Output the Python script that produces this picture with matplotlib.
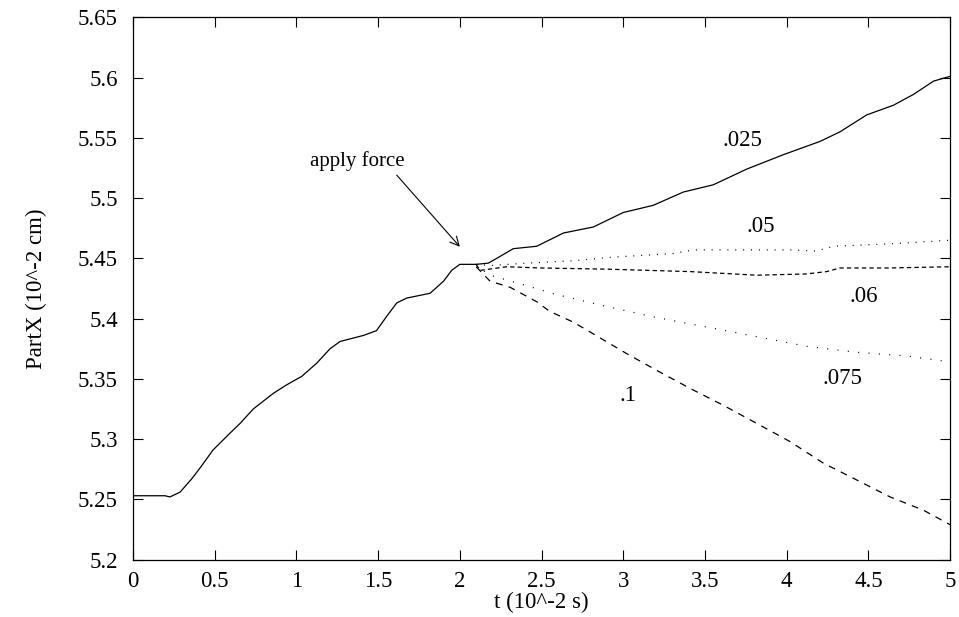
import matplotlib.pyplot as plt

plt.rcParams['font.family'] = ['Liberation Serif', 'DejaVu Serif']

# main trace (.025)
t_025 = [0.0, 0.196, 0.226, 0.288, 0.359, 0.41, 0.49, 0.594, 0.655, 0.736, 0.859, 0.94,
         1.032, 1.124, 1.206, 1.267, 1.41, 1.49, 1.553, 1.614, 1.675, 1.818, 1.9, 1.95,
         2.0, 2.1, 2.174, 2.226, 2.327, 2.47, 2.634, 2.817, 3.0, 3.184, 3.368, 3.551,
         3.755, 3.98, 4.204, 4.327, 4.49, 4.653, 4.776, 4.898, 5.0]
x_025 = [5.253, 5.253, 5.252, 5.256, 5.267, 5.276, 5.291, 5.305, 5.313, 5.325, 5.338, 5.345,
         5.352, 5.363, 5.375, 5.381, 5.386, 5.390, 5.402, 5.413, 5.417, 5.421, 5.431, 5.440,
         5.445, 5.445, 5.446, 5.450, 5.458, 5.460, 5.471, 5.476, 5.488, 5.494, 5.505, 5.511,
         5.524, 5.536, 5.547, 5.555, 5.569, 5.577, 5.586, 5.597, 5.601]

t_05 = [2.1, 2.185, 2.41, 2.695, 2.94, 3.307, 3.43, 3.715, 4.02, 4.18, 4.286, 4.633, 5.0]
x_05 = [5.445, 5.444, 5.446, 5.448, 5.451, 5.454, 5.457, 5.457, 5.457, 5.456, 5.460, 5.462, 5.465]

t_06 = [2.1, 2.124, 2.287, 2.49, 2.9, 3.406, 3.817, 4.12, 4.245, 4.327, 4.633, 5.0]
x_06 = [5.445, 5.440, 5.443, 5.442, 5.441, 5.439, 5.436, 5.437, 5.439, 5.442, 5.442, 5.443]

t_075 = [2.1, 2.12, 2.185, 2.39, 2.59, 2.9, 3.2, 3.51, 3.817, 4.12, 4.43, 4.735, 5.0]
x_075 = [5.445, 5.442, 5.436, 5.428, 5.420, 5.410, 5.401, 5.393, 5.385, 5.377, 5.372, 5.369, 5.364]

t_1 = [2.1, 2.185, 2.307, 2.47, 2.55, 2.695, 2.858, 3.02, 3.205, 3.41, 3.613, 3.817, 4.02,
       4.225, 4.43, 4.633, 4.837, 5.0]
x_1 = [5.443, 5.431, 5.426, 5.414, 5.406, 5.397, 5.384, 5.371, 5.357, 5.342, 5.328, 5.313, 5.298,
       5.280, 5.266, 5.252, 5.241, 5.229]

fig = plt.figure(figsize=(9.59, 6.17), dpi=100)
ax = fig.add_axes([0.1387, 0.093, 0.852, 0.879])

lw = 0.9
ax.plot(t_025, x_025, color='black', lw=lw)
ax.plot(t_05, x_05, color='black', lw=lw, linestyle=(0, (0.8, 5.5)))
ax.plot(t_06, x_06, color='black', lw=lw, linestyle=(0, (3.5, 2.5)))
ax.plot(t_075, x_075, color='black', lw=lw, linestyle=(0, (0.8, 7.5)))
ax.plot(t_1, x_1, color='black', lw=lw, linestyle=(0, (5.5, 5)))

fs = 16.5
ax.text(3.73, 5.548, '.025', fontsize=fs, ha='center', va='center')
ax.text(3.84, 5.476, '.05', fontsize=fs, ha='center', va='center')
ax.text(4.47, 5.418, '.06', fontsize=fs, ha='center', va='center')
ax.text(4.34, 5.350, '.075', fontsize=fs, ha='center', va='center')
ax.text(3.03, 5.336, '.1', fontsize=fs, ha='center', va='center')

ax.text(1.37, 5.531, 'apply force', fontsize=15, ha='center', va='center')
ax.annotate('', xy=(2.0, 5.4596), xytext=(1.614, 5.519),
            arrowprops=dict(arrowstyle='->', color='black', lw=0.8,
                            shrinkA=0, shrinkB=0, mutation_scale=16))

ax.set_xlim(0, 5)
ax.set_ylim(5.2, 5.65)
ax.set_xticks([0, 0.5, 1, 1.5, 2, 2.5, 3, 3.5, 4, 4.5, 5])
ax.set_xticklabels(['0', '0.5', '1', '1.5', '2', '2.5', '3', '3.5', '4', '4.5', '5'])
ax.set_yticks([5.2, 5.25, 5.3, 5.35, 5.4, 5.45, 5.5, 5.55, 5.6, 5.65])
ax.set_yticklabels(['5.2', '5.25', '5.3', '5.35', '5.4', '5.45', '5.5', '5.55', '5.6', '5.65'])
ax.tick_params(direction='in', top=True, right=True, length=7, width=0.8,
               labelsize=fs, pad=8)
ax.tick_params(axis='y', pad=11)
for s in ax.spines.values():
    s.set_linewidth(0.9)

ax.set_xlabel('t (10^-2 s)', fontsize=fs, labelpad=0)
ax.set_ylabel('PartX (10^-2 cm)', fontsize=fs, labelpad=22)

fig.savefig('out.png', dpi=100)
